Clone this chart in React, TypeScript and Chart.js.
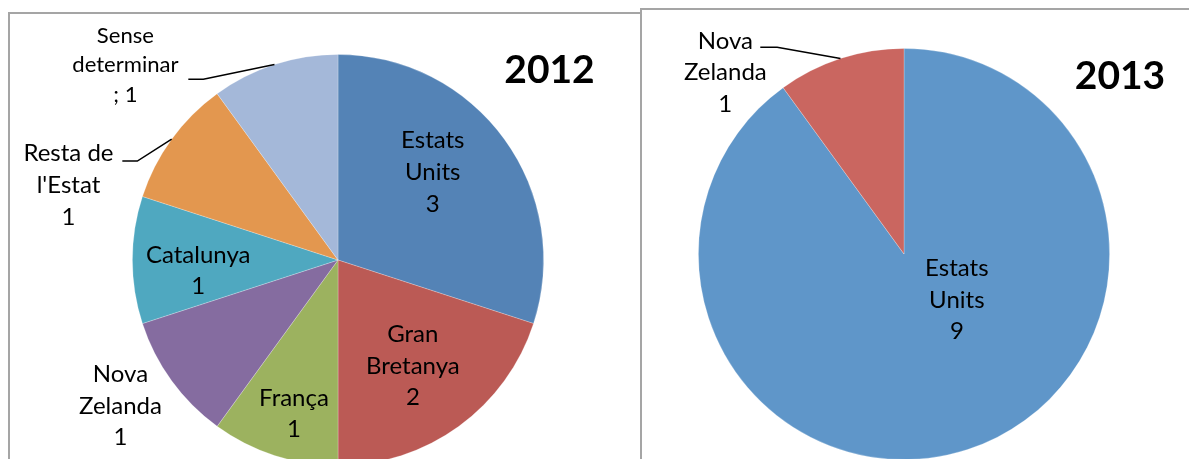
import { useEffect, useRef } from "react";
import { Chart, registerables } from "chart.js";

Chart.register(...registerables);

// ---- Data ----
const categories2012 = [
  "Estats Units",
  "Gran Bretanya",
  "França",
  "Nova Zelanda",
  "Catalunya",
  "Resta de l'Estat",
  "Sense determinar",
];
const values2012 = [3, 2, 1, 1, 1, 1, 1];
const colors2012 = ["#5483b6", "#bb5a55", "#9cb25f", "#856ca0", "#4fa8c0", "#e3974f", "#a4b8d9"];

const categories2013 = ["Estats Units", "Nova Zelanda"];
const values2013 = [9, 1];
const colors2013 = ["#5f96c9", "#ca6660"];

const title2012 = "2012";
const title2013 = "2013";

// ---- Label layout (in units of the pie radius, relative to the pie centre) ----
type Pt = [number, number];
type LabelLayout = { at: Pt; leader?: [Pt, Pt]; scale?: number; sep?: string };

const layout2012: LabelLayout[] = [
  { at: [0.461, -0.427] },
  { at: [0.364, 0.515] },
  { at: [-0.214, 0.748] },
  { at: [-1.058, 0.709] },
  { at: [-0.68, 0.053] },
  { at: [-1.311, -0.364], leader: [[-1.049, -0.481], [-0.976, -0.481]] },
  { at: [-1.034, -0.947], leader: [[-0.728, -0.879], [-0.655, -0.879]], scale: 0.92, sep: "; " },
];

const layout2013: LabelLayout[] = [
  { at: [0.257, 0.223] },
  { at: [-0.869, -0.883], leader: [[-0.699, -1.005], [-0.617, -1.005]] },
];

const FONT = "Lato, 'Open Sans', sans-serif";
const BASE_SIZE = 24;

function wrap(ctx: CanvasRenderingContext2D, text: string, maxW: number): string[] {
  const words = text.split(" ");
  const lines: string[] = [];
  let cur = "";
  for (const w of words) {
    const t = cur ? cur + " " + w : w;
    if (cur && ctx.measureText(t).width > maxW) {
      lines.push(cur);
      cur = w;
    } else cur = t;
  }
  if (cur) lines.push(cur);
  return lines;
}

function makeLabelPlugin(layout: LabelLayout[]) {
  return {
    id: "sliceLabels",
    afterDatasetsDraw(chart: any) {
      const ctx: CanvasRenderingContext2D = chart.ctx;
      const meta = chart.getDatasetMeta(0);
      const labels = chart.data.labels as string[];
      const values = chart.data.datasets[0].data as number[];
      meta.data.forEach((arc: any, i: number) => {
        const L = layout[i];
        if (!L) return;
        const { x, y, startAngle, endAngle, outerRadius } = arc.getProps(
          ["x", "y", "startAngle", "endAngle", "outerRadius"],
          true
        );
        const R = outerRadius;
        const size = BASE_SIZE * (L.scale ?? 1);
        const lh = size * 1.32;
        ctx.save();
        ctx.font = `${size}px ${FONT}`;
        ctx.fillStyle = "#000";
        ctx.textAlign = "center";
        ctx.textBaseline = "middle";
        const lines = wrap(ctx, String(labels[i]), 110);
        lines.push((L.sep ?? "") + String(values[i]));
        const cx = x + L.at[0] * R;
        const cy = y + L.at[1] * R;
        lines.forEach((t, k) => {
          ctx.fillText(t, cx, cy + (k - (lines.length - 1) / 2) * lh);
        });
        if (L.leader) {
          const mid = (startAngle + endAngle) / 2;
          ctx.beginPath();
          ctx.moveTo(x + L.leader[0][0] * R, y + L.leader[0][1] * R);
          ctx.lineTo(x + L.leader[1][0] * R, y + L.leader[1][1] * R);
          ctx.lineTo(x + Math.cos(mid) * R, y + Math.sin(mid) * R);
          ctx.strokeStyle = "#000";
          ctx.lineWidth = 1.5;
          ctx.stroke();
        }
        ctx.restore();
      });
    },
  };
}

type PieProps = {
  labels: string[];
  values: number[];
  colors: string[];
  layout: LabelLayout[];
  left: number;
  top: number;
  width: number;
  height: number;
  padding: { left: number; top: number; right: number; bottom: number };
};

function Pie({ labels, values, colors, layout, left, top, width, height, padding }: PieProps) {
  const ref = useRef<HTMLCanvasElement | null>(null);
  useEffect(() => {
    if (!ref.current) return;
    const chart = new Chart(ref.current, {
      type: "pie",
      data: {
        labels,
        datasets: [
          {
            data: values,
            backgroundColor: colors,
            borderColor: "rgba(255,255,255,0.3)",
            borderWidth: 0.8,
          },
        ],
      },
      options: {
        animation: false,
        responsive: false,
        maintainAspectRatio: false,
        devicePixelRatio: 1,
        events: [],
        layout: { padding },
        plugins: {
          legend: { display: false },
          tooltip: { enabled: false },
          title: { display: false },
        },
      },
      plugins: [makeLabelPlugin(layout)],
    });
    return () => chart.destroy();
  }, []);
  return (
    <canvas
      ref={ref}
      width={width}
      height={height}
      style={{ position: "absolute", left, top, width, height }}
    />
  );
}

const titleStyle = (cx: number, cy: number): React.CSSProperties => ({
  position: "absolute",
  left: cx,
  top: cy,
  transform: "translate(-50%, -50%)",
  fontFamily: FONT,
  fontWeight: 700,
  fontSize: 39,
  lineHeight: 1,
  color: "#000",
  whiteSpace: "nowrap",
});

export default function App() {
  return (
    <div
      style={{
        position: "fixed",
        left: 0,
        top: 0,
        width: 1189,
        height: 459,
        overflow: "hidden",
        background: "#fff",
      }}
    >
      {/* frames */}
      <div
        style={{
          position: "absolute",
          left: 8,
          top: 12,
          width: 634,
          height: 480,
          boxSizing: "border-box",
          borderTop: "2px solid #a5a5a5",
          borderLeft: "2px solid #a5a5a5",
          borderRight: "2px solid #a5a5a5",
        }}
      />
      <div
        style={{
          position: "absolute",
          left: 640,
          top: 8,
          width: 600,
          height: 480,
          boxSizing: "border-box",
          borderTop: "2px solid #a5a5a5",
          borderLeft: "2px solid #a5a5a5",
        }}
      />
      <Pie
        labels={categories2012}
        values={values2012}
        colors={colors2012}
        layout={layout2012}
        left={0}
        top={0}
        width={640}
        height={480}
        padding={{ left: 132, top: 54, right: 96, bottom: 14 }}
      />
      <Pie
        labels={categories2013}
        values={values2013}
        colors={colors2013}
        layout={layout2013}
        left={642}
        top={0}
        width={547}
        height={480}
        padding={{ left: 56, top: 48, right: 79, bottom: 20 }}
      />
      <div style={titleStyle(549.5, 68)}>{title2012}</div>
      <div style={titleStyle(1120, 73.5)}>{title2013}</div>
    </div>
  );
}
